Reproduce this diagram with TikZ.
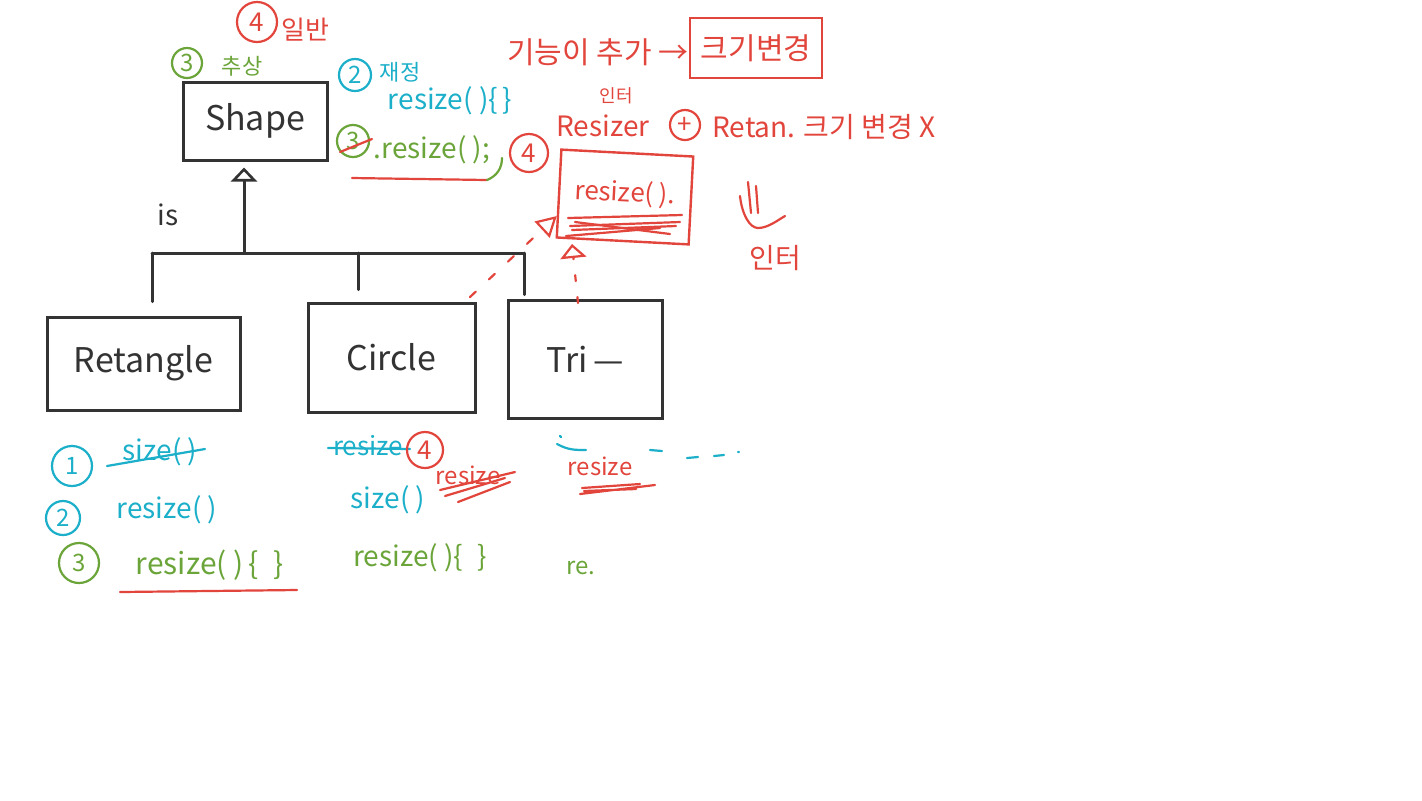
\documentclass[tikz,border=0pt]{standalone}
\usepackage{fontspec}
\setmainfont{Noto Sans CJK KR}
\usetikzlibrary{arrows.meta,calc}
\definecolor{ink}{HTML}{333333}
\definecolor{cy}{HTML}{1BAFC9}
\definecolor{gr}{HTML}{6BA53A}
\definecolor{rd}{HTML}{E2453C}
\newcommand{\fs}[1]{\fontsize{#1}{#1}\selectfont}
\tikzset{
  box/.style={draw=ink, line width=1.5pt, inner sep=0pt, text=ink, font=\fs{17}},
  rbox/.style={draw=rd, line width=1.2pt, inner sep=0pt, text=rd},
  inkline/.style={draw=ink, line width=1.5pt, line cap=round},
  pen/.style={line width=1.1pt, line cap=round, line join=round},
  numc/.style={circle, line width=1.1pt, inner sep=0pt, font=\fs{12}},
  lbl/.style={inner sep=0pt},
}
\begin{document}
\begin{tikzpicture}[x=0.5pt,y=-0.5pt]
\useasboundingbox (0,0) rectangle (1422,800);
\fill[white] (0,0) rectangle (1422,800);

% ---------- class boxes ----------
\node[box, minimum width=72pt, minimum height=39pt] (shape) at (255,121) {Shape};
\node[box, minimum width=96.5pt, minimum height=46.5pt] (ret) at (143.5,363.5) {Retangle};
\node[box, minimum width=83.5pt, minimum height=54.5pt] (circ) at (391.5,357.5) {Circle};
\node[box, minimum width=77pt, minimum height=59pt] (tri) at (585,359) {Tri\,—\hspace{14pt}};
\node[rbox, minimum width=66pt, minimum height=44pt, font=\fs{13}, rotate=-3] (rsz) at (625,197) {\raisebox{6pt}{resize( ).}};

% ---------- inheritance tree ----------
\coordinate (jn) at (244,253);
\coordinate (hl) at (152,253);
\coordinate (hm) at (358,253);
\coordinate (hr) at (524,253);
\draw[inkline, -{Triangle[open, length=7pt, width=13pt, line width=1.3pt]}, shorten >=3pt] (jn) -- (jn |- shape.south);
\draw[inkline] (hl) -- (hr);
\draw[inkline, shorten >=7pt] (hl) -- (hl |- ret.north);
\draw[inkline, shorten >=6pt] (hm) -- (hm |- circ.north);
\draw[inkline, shorten >=2pt] (hr) -- (hr |- tri.north);
\node[lbl, text=ink, font=\fs{14}] (is) at (168,215) {is};

% ---------- red dependency / realization ----------
\coordinate (dstart) at (470,297);
\coordinate (rtip) at ($(rsz.south west)!0.5!(rsz.west)$);
\draw[rd, pen, dash pattern=on 4pt off 9pt, -{Triangle[open, length=10pt, width=11pt, line width=1.1pt]}] (dstart) -- (rtip);
\coordinate (vstart) at (578,303);
\coordinate (vtip) at (572,244);
\draw[rd, pen, dash pattern=on 3pt off 8pt, -{Triangle[open, length=7pt, width=13pt, line width=1.1pt]}] (vstart) -- (vtip);
% scribbles inside Resizer box
\draw[rd, pen] (568,218) -- (682,215);
\draw[rd, pen] (570,226) -- (680,222) (572,230) -- (676,226) (566,236) -- (660,228);
\draw[rd, pen] (575,222) -- (670,234);

% ---------- top annotations ----------
\node[numc, draw=rd, text=rd, minimum size=20pt, font=\fs{13}] (n4top) at (257,22) {4};
\node[lbl, text=rd, font=\fs{13}] (ilban) at (305,30) {일반};
\node[numc, draw=gr, text=gr, minimum size=15pt] (n3top) at (187,63) {3};
\node[lbl, text=gr, font=\fs{11}] (chusang) at (242,66) {추상};

\node[numc, draw=cy, text=cy, minimum size=16pt] (n2top) at (355,75) {2};
\node[lbl, text=cy, font=\fs{11}] (jaejeong) at (400,72) {재정};
\node[lbl, text=cy, font=\fs{14}] (rsz1) at (450,101) {resize( )\{\,\}};
\node[numc, draw=gr, text=gr, minimum size=16pt] (n3b) at (353,141) {3};
\draw[rd, pen] (340,152) -- (372,139);
\node[lbl, text=gr, font=\fs{14}] (rsz2) at (432,150) {.resize( );};
\draw[rd, pen] (352,178) -- (487,180);
\draw[gr, pen] (487,180) .. controls (497,176) and (502,168) .. (502,158);
\node[numc, draw=rd, text=rd, minimum size=19pt, font=\fs{13}] (n4mid) at (529,153) {4};

\node[lbl, text=rd, font=\fs{15}] (gineung) at (598,52) {기능이 추가 →};
\node[rbox, minimum width=66pt, minimum height=30pt, font=\fs{15}] (kgbg) at (756,48) {크기변경};
\node[lbl, text=rd, font=\fs{9}] (inter1) at (616,96) {인터};
\node[lbl, text=rd, font=\fs{14}] (resizer) at (603,126) {Resizer};
\node[circle, draw=rd, line width=1.1pt, text=rd, minimum size=15pt, inner sep=0pt, font=\fs{13}] (plus) at (685,125) {+};
\node[lbl, text=rd, font=\fs{14}, anchor=west] (retan) at (712,127) {Retan. 크기 변경 X};

% down arrow and text
\draw[rd, pen] (748,182) -- (751,213) (756,186) -- (758,213);
\draw[rd, pen] (740,196) .. controls (742,215) and (750,228) .. (758,228) .. controls (768,228) and (778,220) .. (785,216);
\node[lbl, text=rd, font=\fs{14}] (inter2) at (775,258) {인터};

% ---------- bottom notes: Retangle ----------
\node[numc, draw=cy, text=cy, minimum size=20pt] (b1) at (72,466) {1};
\node[lbl, text=cy, font=\fs{14}] (size1) at (160,452) {size( )};
\draw[cy, pen] (107,466) -- (205,449);
\node[numc, draw=cy, text=cy, minimum size=17pt] (b2) at (63,518) {2};
\node[lbl, text=cy, font=\fs{14}] (rs1) at (167,510) {resize( )};
\node[numc, draw=gr, text=gr, minimum size=20pt] (b3) at (79,563) {3};
\node[lbl, text=gr, font=\fs{15}] (rs2) at (210,565) {resize( )\,\{\enspace\}};
\draw[rd, pen] (120,592) -- (297,590);

% ---------- bottom notes: Circle ----------
\node[lbl, text=cy, font=\fs{13}] (crs) at (368,446) {resize};
\draw[cy, pen] (328,448) -- (410,449);
\node[numc, draw=rd, text=rd, minimum size=18pt, font=\fs{13}] (c4) at (425,450) {4};
\node[lbl, text=rd, font=\fs{12}] (crs2) at (468,475) {resize};
\draw[rd, pen] (440,490) -- (515,472) (445,496) -- (505,478) (458,502) -- (510,482);
\node[lbl, text=cy, font=\fs{14}] (csz) at (388,500) {size( )};
\node[lbl, text=gr, font=\fs{14}] (crs3) at (420,558) {resize( )\{\enspace\}};

% ---------- bottom notes: Tri ----------
\draw[cy, pen] (560,436) -- (561,437);
\draw[cy, pen] (557,444) .. controls (568,450) and (575,450) .. (586,450);
\node[lbl, text=rd, font=\fs{12}] (trs) at (600,466) {resize};
\draw[rd, pen] (582,488) -- (640,484) (580,494) -- (655,485) (584,491) -- (636,489);
\draw[cy, pen] (650,450) -- (662,451) (687,458) -- (698,457) (714,456) -- (724,455) (738,452) -- (739,452);
\node[lbl, text=gr, font=\fs{12}] (tre) at (581,568) {re.};

\end{tikzpicture}
\end{document}
